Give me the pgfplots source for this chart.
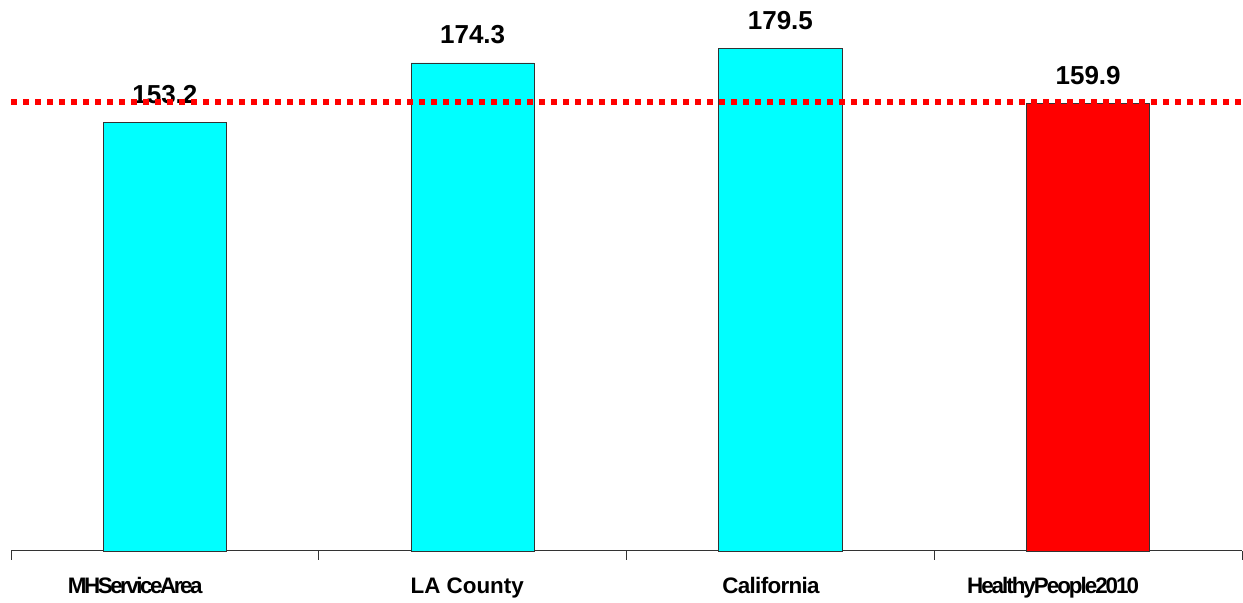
\documentclass[border=0pt]{standalone}
\usepackage{pgfplots}
\pgfplotsset{compat=1.18}
\usepackage{fontspec}
\setmainfont{Liberation Sans}
\newfontfamily\tightA[LetterSpace=-11]{Liberation Sans}
\newfontfamily\tightB[LetterSpace=-9]{Liberation Sans}
\newfontfamily\tightC[LetterSpace=-3]{Liberation Sans}
\definecolor{barcyan}{RGB}{0,255,255}
\definecolor{barred}{RGB}{255,0,0}
\begin{document}
\begin{tikzpicture}
\useasboundingbox (-5.5pt,-26pt) rectangle (616pt,275.5pt);
\begin{axis}[
  scale only axis,
  width=615.5pt, height=275.5pt,
  xmin=-0.5, xmax=3.5, ymin=0, ymax=196.8,
  axis x line=bottom, axis y line=none,
  axis line style={-, black!80, line width=0.5pt},
  xtick={0,1,2,3},
  xticklabels={{\makebox[97pt][l]{\tightA MHServiceArea}},{\makebox[62pt][l]{LA County}},{\makebox[58pt][l]{\tightC California}},{\makebox[121pt][l]{\tightB HealthyPeople2010}}},
  major tick length=0pt,
  minor xtick={-0.5,0.5,1.5,2.5,3.5},
  minor tick length=4.5pt,
  tick align=outside,
  tick style={black!80, line width=0.4pt},
  xticklabel style={font=\fontsize{11.2}{13}\selectfont\bfseries, anchor=base, yshift=-21.5pt},
  clip=false,
  barstyle/.style={ybar, bar width=0.4, bar shift=0pt, line width=0.4pt, draw=black!80,
    nodes near coords, point meta=explicit symbolic,
    every node near coord/.append style={font=\fontsize{13}{15}\selectfont\bfseries, anchor=base, yshift=9.5pt, black}},
]
\addplot[barstyle, fill=barcyan] coordinates {(0,153.2) [153.2] (1,174.3) [174.3] (2,179.5) [179.5]};
\addplot[barstyle, fill=barred] coordinates {(3,159.9) [159.9]};
\end{axis}
\begin{axis}[
  scale only axis,
  width=615.5pt, height=275.5pt,
  xmin=-0.5, xmax=3.5, ymin=0, ymax=196.8,
  hide axis, clip=false,
]
\addplot[draw=barred, line width=3pt, dash pattern=on 3pt off 3pt] coordinates {(-0.5,160.3) (3.5,160.3)};
\end{axis}
\end{tikzpicture}
\end{document}
